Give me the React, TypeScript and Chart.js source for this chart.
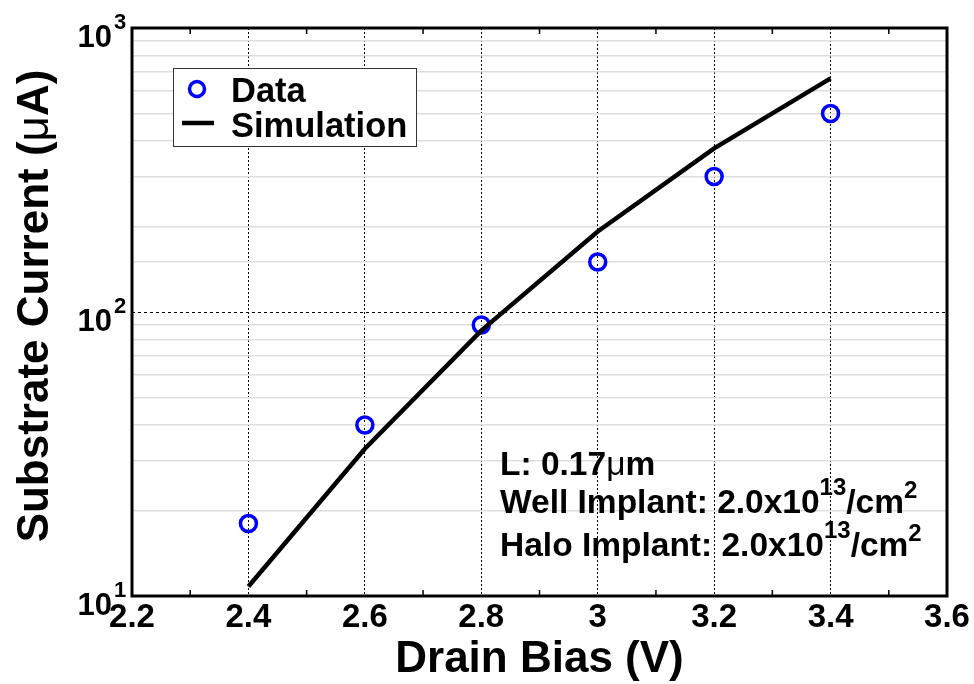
import React, { useEffect, useRef } from "react";
import { Chart, registerables } from "chart.js";

Chart.register(...registerables);

// Drain bias sweep (V) and substrate current (µA)
const drainBias = [2.4, 2.6, 2.8, 3.0, 3.2, 3.4];
const measuredCurrent = [18, 40, 90, 150, 300, 500];
const simulatedCurrent = [10.8, 33, 86, 192, 377, 665];

// Axis ranges and tick values
const xMin = 2.2;
const xMax = 3.6;
const xStep = 0.2;
const xMinorTicks = [2.3, 2.5, 2.7, 2.9, 3.1, 3.3, 3.5];
const yMin = 10;
const yMax = 1000;
const yDecades = [10, 100, 1000];

const legendLabels = ["Data", "Simulation"];
const xTitle = "Drain Bias (V)";
const yTitleParts = ["Substrate Current (", "\u03bc", "A)"];

const FAMILY = '"Liberation Sans", Arial, Helvetica, sans-serif';
const bold = (px: number) => `bold ${px}px ${FAMILY}`;
const plain = (px: number) => `${px}px ${FAMILY}`;

type Run = { text: string; font: string; rise?: number };

// Device parameters printed inside the plot
const annotationLines: Run[][] = [
  [
    { text: "L: 0.17", font: bold(33.5) },
    { text: "\u03bc", font: plain(33.5) },
    { text: "m", font: bold(33.5) },
  ],
  [
    { text: "Well Implant: 2.0x10", font: bold(33.5) },
    { text: "13", font: bold(24), rise: 18 },
    { text: "/cm", font: bold(33.5) },
    { text: "2", font: bold(24), rise: 15 },
  ],
  [
    { text: "Halo Implant: 2.0x10", font: bold(33.5) },
    { text: "13", font: bold(24), rise: 18 },
    { text: "/cm", font: bold(33.5) },
    { text: "2", font: bold(24), rise: 15 },
  ],
];

const yTitleRuns: Run[] = [
  { text: yTitleParts[0], font: bold(44) },
  { text: yTitleParts[1], font: plain(44) },
  { text: yTitleParts[2], font: bold(44) },
];

function drawRuns(ctx: CanvasRenderingContext2D, x: number, y: number, runs: Run[]) {
  let cx = x;
  for (const r of runs) {
    ctx.font = r.font;
    ctx.fillText(r.text, cx, y - (r.rise || 0));
    cx += ctx.measureText(r.text).width;
  }
}

function runsWidth(ctx: CanvasRenderingContext2D, runs: Run[]) {
  let w = 0;
  for (const r of runs) {
    ctx.font = r.font;
    w += ctx.measureText(r.text).width;
  }
  return w;
}

const isDecade = (v: number) => Math.abs(Math.log10(v) - Math.round(Math.log10(v))) < 1e-6;

const decorations = {
  id: "decorations",
  beforeDatasetsDraw(chart: any) {
    const { ctx, chartArea: a, scales } = chart;
    const ys = scales.y;
    ctx.save();
    // dashed major grid lines at interior decades
    ctx.strokeStyle = "#000";
    ctx.lineWidth = 1;
    ctx.setLineDash([3, 3]);
    for (const v of yDecades) {
      if (v <= yMin || v >= yMax) continue;
      const py = Math.round(ys.getPixelForValue(v)) + 0.5;
      ctx.beginPath();
      ctx.moveTo(a.left, py);
      ctx.lineTo(a.right, py);
      ctx.stroke();
    }
    ctx.restore();
  },
  afterDraw(chart: any) {
    const { ctx, chartArea: a, scales } = chart;
    const xs = scales.x;
    const ys = scales.y;
    ctx.save();

    // minor x ticks, pointing inward from top and bottom
    ctx.strokeStyle = "#000";
    ctx.lineWidth = 1.5;
    for (const v of xMinorTicks) {
      const px = xs.getPixelForValue(v);
      ctx.beginPath();
      ctx.moveTo(px, a.bottom);
      ctx.lineTo(px, a.bottom - 6);
      ctx.moveTo(px, a.top);
      ctx.lineTo(px, a.top + 6);
      ctx.stroke();
    }

    // frame
    ctx.lineWidth = 3;
    ctx.strokeRect(a.left, a.top, a.right - a.left, a.bottom - a.top);

    // y decade labels with superscript exponents
    ctx.fillStyle = "#000";
    ctx.textBaseline = "alphabetic";
    for (const v of yDecades) {
      const py = ys.getPixelForValue(v);
      ctx.font = bold(31);
      ctx.textAlign = "right";
      ctx.fillText("10", a.left - 20, py + 19);
      ctx.textAlign = "left";
      ctx.font = bold(22);
      ctx.fillText(String(Math.round(Math.log10(v))), a.left - 18, py + 1);
    }

    // rotated y-axis title
    ctx.save();
    ctx.translate(48, 306);
    ctx.rotate(-Math.PI / 2);
    ctx.textAlign = "left";
    drawRuns(ctx, -runsWidth(ctx, yTitleRuns) / 2, 0, yTitleRuns);
    ctx.restore();

    // legend
    const lx = a.left + 41;
    const ly = a.top + 40;
    const lw = 243;
    const lh = 78;
    ctx.fillStyle = "#fff";
    ctx.fillRect(lx, ly, lw, lh);
    ctx.strokeStyle = "#333";
    ctx.lineWidth = 1;
    ctx.strokeRect(lx + 0.5, ly + 0.5, lw, lh);
    const ds0 = chart.data.datasets[1];
    ctx.strokeStyle = ds0.borderColor;
    ctx.lineWidth = 3.5;
    ctx.beginPath();
    ctx.arc(lx + 24, ly + 21, 7.5, 0, Math.PI * 2);
    ctx.stroke();
    ctx.strokeStyle = "#000";
    ctx.lineWidth = 4.5;
    ctx.beginPath();
    ctx.moveTo(lx + 9, ly + 55);
    ctx.lineTo(lx + 41, ly + 55);
    ctx.stroke();
    ctx.fillStyle = "#000";
    ctx.font = bold(34.5);
    ctx.textAlign = "left";
    ctx.fillText(legendLabels[0], lx + 58, ly + 34);
    ctx.fillText(legendLabels[1], lx + 58, ly + 69);

    // annotation block
    const baselines = [475, 513, 556];
    annotationLines.forEach((runs, i) => drawRuns(ctx, 500, baselines[i], runs));

    ctx.restore();
  },
};

export default function App() {
  const canvasRef = useRef<HTMLCanvasElement | null>(null);

  useEffect(() => {
    if (!canvasRef.current) return;
    const chart = new Chart(canvasRef.current, {
      type: "line",
      data: {
        datasets: [
          {
            label: legendLabels[1],
            data: drainBias.map((x, i) => ({ x, y: simulatedCurrent[i] })),
            borderColor: "#000",
            borderWidth: 4.5,
            pointRadius: 0,
            fill: false,
            tension: 0,
          },
          {
            label: legendLabels[0],
            data: drainBias.map((x, i) => ({ x, y: measuredCurrent[i] })),
            showLine: false,
            borderColor: "#0000ff",
            backgroundColor: "rgba(0,0,0,0)",
            pointRadius: 8,
            pointBorderWidth: 3.5,
            pointHoverRadius: 8,
          },
        ],
      },
      options: {
        animation: false,
        responsive: true,
        maintainAspectRatio: false,
        events: [],
        layout: { padding: { left: 0, top: 28, right: 27, bottom: 0 } },
        plugins: { legend: { display: false }, tooltip: { enabled: false } },
        scales: {
          x: {
            type: "linear",
            min: xMin,
            max: xMax,
            afterFit: (s: any) => {
              s.height = 88;
            },
            ticks: {
              stepSize: xStep,
              autoSkip: false,
              padding: 2,
              color: "#000",
              font: { family: FAMILY, size: 33, weight: "bold" },
              callback: (v: any) => String(Number(Number(v).toFixed(1))),
            },
            grid: {
              drawTicks: false,
              lineWidth: 1,
              color: (c: any) => {
                const v = c.tick ? c.tick.value : NaN;
                if (Math.abs(v - xMin) < 1e-6 || Math.abs(v - xMax) < 1e-6) return "rgba(0,0,0,0)";
                return "#000";
              },
            },
            border: { display: false, dash: [2, 2] },
            title: {
              display: true,
              text: xTitle,
              color: "#000",
              font: { family: FAMILY, size: 44, weight: "bold", lineHeight: 1 },
              padding: { top: 0, bottom: 2 },
            },
          },
          y: {
            type: "logarithmic",
            min: yMin,
            max: yMax,
            afterFit: (s: any) => {
              s.width = 132;
            },
            ticks: { display: false, autoSkip: false },
            grid: {
              drawTicks: false,
              lineWidth: 1.5,
              color: (c: any) => {
                const v = c.tick ? c.tick.value : NaN;
                return isDecade(v) ? "rgba(0,0,0,0)" : "#dedede";
              },
            },
            border: { display: false },
          },
        },
      },
      plugins: [decorations],
    });
    return () => chart.destroy();
  }, []);

  return (
    <div style={{ position: "fixed", left: 0, top: 0, width: 974, height: 684, background: "#fff" }}>
      <canvas ref={canvasRef} />
    </div>
  );
}
